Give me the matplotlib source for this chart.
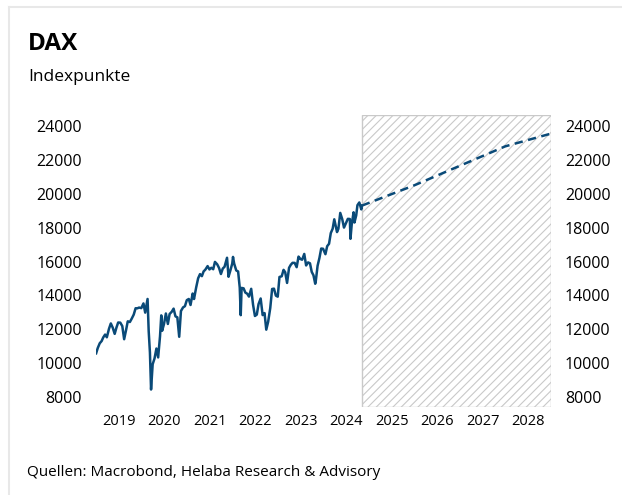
import pandas as pd
import matplotlib
import matplotlib.pyplot as plt
from matplotlib.lines import Line2D

matplotlib.use('Agg')

plt.rcParams['font.family'] = ['Open Sans', 'DejaVu Sans']
plt.rcParams['hatch.linewidth'] = 0.8

# DAX historie (Indexpunkte)
dax_tage = [
    '2019-01-02', '2019-01-15', '2019-01-31', '2019-02-15', '2019-02-28',
    '2019-03-15', '2019-03-29', '2019-04-15', '2019-04-30', '2019-05-15',
    '2019-05-31', '2019-06-14', '2019-06-28', '2019-07-15', '2019-07-31',
    '2019-08-15', '2019-08-30', '2019-09-13', '2019-09-30', '2019-10-15',
    '2019-10-31', '2019-11-15', '2019-11-29', '2019-12-13', '2019-12-31',
    '2020-01-17', '2020-01-31', '2020-02-19', '2020-02-28', '2020-03-09',
    '2020-03-18', '2020-03-31', '2020-04-15', '2020-04-30', '2020-05-14',
    '2020-05-29', '2020-06-08', '2020-06-15', '2020-06-30', '2020-07-15',
    '2020-07-31', '2020-08-14', '2020-08-31', '2020-09-15', '2020-09-30',
    '2020-10-15', '2020-10-30', '2020-11-13', '2020-11-30', '2020-12-15',
    '2020-12-30',
    '2021-01-15', '2021-01-29', '2021-02-15', '2021-02-26', '2021-03-15',
    '2021-03-31', '2021-04-15', '2021-04-30', '2021-05-14', '2021-05-28',
    '2021-06-15', '2021-06-30', '2021-07-15', '2021-07-30', '2021-08-13',
    '2021-08-31', '2021-09-15', '2021-09-30', '2021-10-15', '2021-10-29',
    '2021-11-18', '2021-11-30', '2021-12-15', '2021-12-30',
    '2022-01-05', '2022-01-14', '2022-01-31', '2022-02-15', '2022-02-28',
    '2022-03-08', '2022-03-15', '2022-03-31', '2022-04-14', '2022-04-29',
    '2022-05-13', '2022-05-31', '2022-06-15', '2022-06-30', '2022-07-15',
    '2022-07-29', '2022-08-15', '2022-08-31', '2022-09-15', '2022-09-29',
    '2022-10-14', '2022-10-31', '2022-11-15', '2022-11-30', '2022-12-15',
    '2022-12-30',
    '2023-01-13', '2023-01-31', '2023-02-15', '2023-02-28', '2023-03-15',
    '2023-03-31', '2023-04-14', '2023-04-28', '2023-05-15', '2023-05-31',
    '2023-06-15', '2023-06-30', '2023-07-14', '2023-07-31', '2023-08-15',
    '2023-08-31', '2023-09-15', '2023-09-29', '2023-10-13', '2023-10-27',
    '2023-10-31', '2023-11-15', '2023-11-30', '2023-12-14', '2023-12-29',
    '2024-01-17', '2024-01-31', '2024-02-15', '2024-02-29', '2024-03-15',
    '2024-03-28', '2024-04-19', '2024-04-30', '2024-05-15', '2024-05-31',
    '2024-06-14', '2024-06-28', '2024-07-15', '2024-07-31', '2024-08-05',
    '2024-08-15', '2024-08-30', '2024-09-06', '2024-09-20', '2024-09-30',
    '2024-10-15', '2024-10-31', '2024-11-05',
]
dax_werte = [
    10580, 10890, 11173, 11300, 11516,
    11686, 11526, 12020, 12344, 12100,
    11727, 12096, 12399, 12390, 12189,
    11412, 11939, 12469, 12428, 12630,
    12867, 13241, 13236, 13282, 13249,
    13526, 12982, 13789, 11890, 10625,
    8442, 9936, 10280, 10862, 10337,
    11587, 12820, 11911, 12311, 12931,
    12313, 12901, 13033, 13218, 12761,
    12704, 11556, 13077, 13291, 13362,
    13719,
    13787, 13433, 14109, 13786, 14461,
    15008, 15255, 15136, 15417, 15520,
    15729, 15531, 15630, 15544, 15977,
    15835, 15616, 15261, 15587, 15688,
    16221, 15100, 15476, 15885,
    16271, 15883, 15471, 15412, 14461,
    12832, 14441, 14415, 14164, 14098,
    13928, 14388, 13447, 12784, 12864,
    13484, 13816, 12835, 12956, 11976,
    12438, 13253, 14378, 14397, 13986,
    13924,
    15087, 15128, 15507, 15365, 14735,
    15629, 15808, 15922, 15918, 15664,
    16290, 16148, 16105, 16446, 15767,
    15947, 15893, 15387, 15187, 14687,
    14810, 15748, 16215, 16766, 16752,
    16431, 16904, 17046, 17678, 17936,
    18492, 17737, 17932, 18869, 18498,
    18002, 18235, 18519, 18509, 17339,
    18184, 18906, 18302, 18720, 19325,
    19486, 19078, 19300,
]

# Prognose (gestrichelt)
prognose_tage = ['2024-11-05', '2025-12-31', '2026-12-31', '2027-12-31', '2028-12-31']
prognose_werte = [19300, 20500, 21650, 22800, 23550]

jahre = [2019, 2020, 2021, 2022, 2023, 2024, 2025, 2026, 2027, 2028]
y_ticks = [8000, 10000, 12000, 14000, 16000, 18000, 20000, 22000, 24000]

prognose_start = '2024-11-05'
prognose_ende = '2029-01-01'

farbe = '#0a4a78'

fig = plt.figure(figsize=(6.22, 4.95), dpi=100)
W, H = 622, 495

# heller Rahmen
fig.add_artist(Line2D([9 / W, 9 / W], [0, 1 - 7 / H], color='#e8e8e8', linewidth=1.5))
fig.add_artist(Line2D([9 / W, 1], [1 - 7 / H, 1 - 7 / H], color='#e8e8e8', linewidth=1.5))

ax = fig.add_axes([96 / W, 1 - 407 / H, (551 - 96) / W, (407 - 115) / H])

ax.axvspan(
    pd.Timestamp(prognose_start),
    pd.Timestamp(prognose_ende),
    facecolor='white',
    edgecolor='#c9c9c9',
    hatch='////',
    linewidth=1.0,
    zorder=1
)

ax.plot(
    pd.to_datetime(dax_tage),
    dax_werte,
    color=farbe,
    linewidth=1.8,
    zorder=3
)

ax.plot(
    pd.to_datetime(prognose_tage),
    prognose_werte,
    color=farbe,
    linewidth=1.8,
    linestyle=(0, (3.3, 2.2)),
    zorder=3
)

ax.set_xlim(pd.Timestamp('2019-01-01'), pd.Timestamp('2029-01-01'))
ax.set_ylim(7410, 24650)

ax.set_xticks([pd.Timestamp(f'{j}-07-02') for j in jahre])
ax.set_xticklabels([str(j) for j in jahre], fontsize=10.5)
ax.set_yticks(y_ticks)
ax.set_yticklabels([str(v) for v in y_ticks], fontsize=11.5)

ax.tick_params(axis='x', length=0, pad=5)
ax.tick_params(axis='y', length=0, pad=10, labelleft=True, labelright=True)

for s in ax.spines.values():
    s.set_visible(False)

fig.text(28 / W, 1 - 44 / H, 'DAX', fontsize=17.5, fontweight='bold', va='center', ha='left')
fig.text(28 / W, 1 - 77 / H, 'Indexpunkte', fontsize=12.5, va='center', ha='left')
fig.text(27 / W, 1 - 472 / H, 'Quellen: Macrobond, Helaba Research & Advisory', fontsize=11, va='center', ha='left')

plt.savefig('out.png', dpi=100)
plt.close()
